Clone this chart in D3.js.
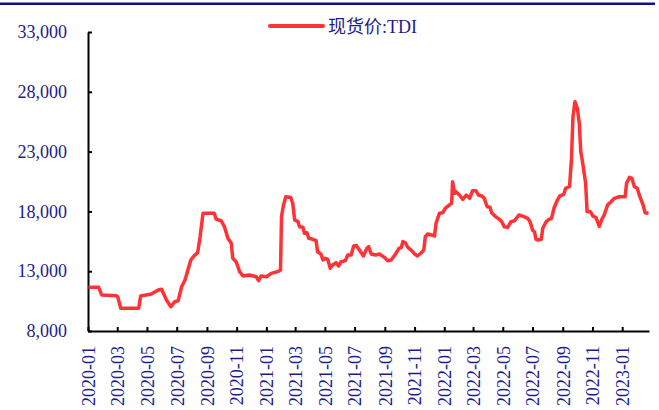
<!DOCTYPE html>
<html>
<head>
<meta charset="utf-8">
<script src="https://cdn.jsdelivr.net/npm/d3@7"></script>
<style>
  body { margin: 0; background: #fff; }
  svg { display: block; }
  .axis text { font-family: "Liberation Serif", "Times New Roman", serif; font-size: 18px; fill: #1c1c8c; }
  .axis path, .axis line { stroke: #000; stroke-width: 2px; }
</style>
</head>
<body>
<svg id="chart"></svg>
<script>
// series: 现货价:TDI (date, value)
const dates = [
  "2020-01-02","2020-01-23","2020-01-29","2020-02-28","2020-03-02","2020-03-08","2020-04-14","2020-04-18",
  "2020-05-10","2020-05-24","2020-05-31","2020-06-10","2020-06-19","2020-06-27","2020-07-04","2020-07-11",
  "2020-07-18","2020-07-24","2020-07-30","2020-08-07","2020-08-13","2020-08-18","2020-08-24","2020-09-16",
  "2020-09-20","2020-09-30","2020-10-07","2020-10-14","2020-10-21","2020-10-24","2020-10-31","2020-11-07",
  "2020-11-14","2020-11-27","2020-12-11","2020-12-16","2020-12-21","2021-01-01","2021-01-11","2021-01-24",
  "2021-01-30","2021-02-01","2021-02-05","2021-02-10","2021-02-20","2021-02-24","2021-02-28","2021-03-07",
  "2021-03-10","2021-03-17","2021-03-20","2021-03-25","2021-03-29","2021-04-06","2021-04-13","2021-04-16",
  "2021-04-23","2021-04-27","2021-05-02","2021-05-07","2021-05-12","2021-05-17","2021-05-24","2021-05-29",
  "2021-06-03","2021-06-12","2021-06-17","2021-06-24","2021-06-29","2021-07-04","2021-07-11","2021-07-19",
  "2021-07-26","2021-07-30","2021-08-04","2021-08-13","2021-08-21","2021-08-31","2021-09-07","2021-09-14",
  "2021-09-23","2021-09-30","2021-10-05","2021-10-08","2021-10-13","2021-10-18","2021-10-25","2021-11-01",
  "2021-11-07","2021-11-14","2021-11-20","2021-11-23","2021-11-28","2021-12-06","2021-12-12","2021-12-15",
  "2021-12-22","2021-12-29","2022-01-03","2022-01-07","2022-01-11","2022-01-16","2022-01-18","2022-01-22",
  "2022-01-25","2022-02-01","2022-02-08","2022-02-15","2022-02-22","2022-02-28","2022-03-07","2022-03-12",
  "2022-03-19","2022-03-24","2022-03-30","2022-04-05","2022-04-08","2022-04-15","2022-04-24","2022-04-29",
  "2022-05-04","2022-05-11","2022-05-18","2022-05-25","2022-06-03","2022-06-11","2022-06-21","2022-06-26",
  "2022-07-01","2022-07-05","2022-07-08","2022-07-12","2022-07-19","2022-07-22","2022-07-29","2022-08-04",
  "2022-08-09","2022-08-14","2022-08-21","2022-08-26","2022-09-03","2022-09-07","2022-09-15","2022-09-19",
  "2022-09-22","2022-09-26","2022-10-01","2022-10-05","2022-10-08","2022-10-11","2022-10-18","2022-10-21",
  "2022-10-28","2022-11-02","2022-11-08","2022-11-15","2022-11-20","2022-11-25","2022-12-02","2022-12-09",
  "2022-12-16","2022-12-26","2023-01-07","2023-01-10","2023-01-16","2023-01-21","2023-01-26","2023-02-01",
  "2023-02-04","2023-02-09","2023-02-13","2023-02-17","2023-02-24"
];
const prices = [
  11650,11650,11010,10950,10870,9900,9900,10930,
  11090,11430,11490,10590,10030,10450,10530,11700,
  12260,13100,13940,14350,14550,15880,17840,17840,
  17340,17220,16720,15750,15330,14080,13790,12960,
  12600,12680,12540,12210,12600,12540,12820,12960,
  13100,17560,18530,19230,19160,18680,17280,17140,
  16720,16670,16170,16220,15750,15670,15550,14630,
  14440,13940,14080,13990,13240,13520,13710,13430,
  13790,13880,14350,14350,15110,15160,14770,14270,
  14910,15050,14440,14350,14440,14160,13880,13940,
  14440,14910,15000,15470,15380,15000,14770,14440,
  14270,14500,14770,15880,16110,16030,15940,17000,
  17840,17890,18260,18390,18530,18680,20480,19510,
  19650,19370,19010,19370,19090,19730,19730,19370,
  19290,19090,18390,18340,17890,17610,17340,17140,
  16720,16670,17140,17220,17700,17610,17420,17140,
  16440,16300,15670,15610,15670,16590,17140,17340,
  17420,18260,18950,19290,19430,19930,20080,22440,
  25920,27170,26620,25360,22990,22300,20350,17970,
  17970,17610,17510,16740,17320,17700,18530,18810,
  19090,19230,19230,20350,20850,20770,20060,19930,
  19510,18950,18530,17890,17840
];
const xTickLabels = [
  "2020-01","2020-03","2020-05","2020-07","2020-09","2020-11",
  "2021-01","2021-03","2021-05","2021-07","2021-09","2021-11",
  "2022-01","2022-03","2022-05","2022-07","2022-09","2022-11","2023-01"
];
const yTicks = [8000, 13000, 18000, 23000, 28000, 33000];
const seriesName = "现货价:TDI";

const width = 659, height = 410;
const margin = { top: 32, right: 10, bottom: 79, left: 88 };
const innerW = 649 - margin.left;
const innerH = height - margin.top - margin.bottom;

const parse = d3.timeParse("%Y-%m-%d");
const parseMonth = d3.timeParse("%Y-%m");
const data = dates.map((d, i) => ({ date: parse(d), value: prices[i] }));

const svg = d3.select("#chart").attr("width", width).attr("height", height);

// top rule
svg.append("rect").attr("x", 0).attr("y", 2.5).attr("width", 655).attr("height", 2.5).attr("fill", "#16127c");

const g = svg.append("g").attr("transform", `translate(${margin.left},${margin.top})`);

const x = d3.scaleTime()
  .domain([parse("2020-01-01"), parse("2023-02-25")])
  .range([0, innerW]);
const y = d3.scaleLinear().domain([8000, 33000]).range([innerH, 0]);

// y axis
const yAxis = g.append("g")
  .attr("class", "axis")
  .call(d3.axisLeft(y).tickValues(yTicks).tickFormat(d3.format(",")).tickSize(-4).tickPadding(21).tickSizeOuter(0));
yAxis.selectAll("text").attr("dy", "0.32em");

// x axis
const xAxis = g.append("g")
  .attr("class", "axis")
  .attr("transform", `translate(0,${innerH})`)
  .call(d3.axisBottom(x)
    .tickValues(xTickLabels.map(parseMonth))
    .tickFormat(d3.timeFormat("%Y-%m"))
    .tickSize(-4)
    .tickSizeOuter(0));
xAxis.selectAll("text")
  .attr("transform", "rotate(-90)")
  .attr("text-anchor", "end")
  .attr("x", -15)
  .attr("y", 0)
  .attr("dy", "0.35em");

// line
const line = d3.line().x(d => x(d.date)).y(d => y(d.value));
g.append("path")
  .datum(data)
  .attr("fill", "none")
  .attr("stroke", "#ff3236")
  .attr("stroke-width", 3.5)
  .attr("stroke-linejoin", "round")
  .attr("d", line);

// legend
const legend = svg.append("g").attr("transform", "translate(270,26)");
legend.append("line")
  .attr("x1", 0).attr("x2", 53).attr("y1", 0).attr("y2", 0)
  .attr("stroke", "#ff3236").attr("stroke-width", 4).attr("stroke-linecap", "round");
legend.append("text")
  .attr("x", 58).attr("y", 7)
  .attr("font-family", "'Liberation Serif', 'Noto Sans CJK SC', serif")
  .attr("font-size", 18)
  .attr("fill", "#1c1c8c")
  .text(seriesName);
</script>
</body>
</html>
